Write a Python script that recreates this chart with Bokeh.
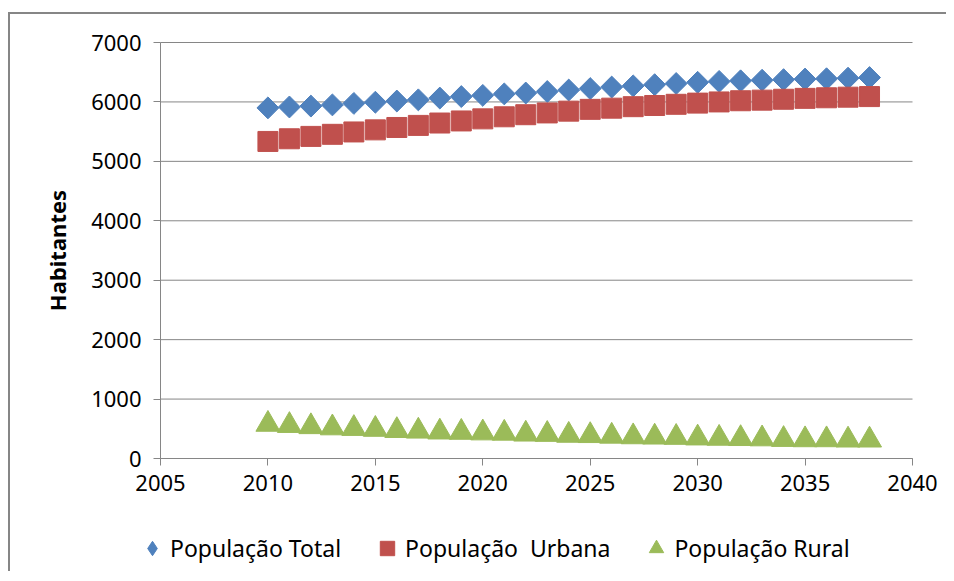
import math
from bokeh.plotting import figure
from bokeh.models import Range1d, FixedTicker, Legend, LegendItem, ColumnDataSource
from bokeh.embed import file_html
from bokeh.resources import INLINE

years = list(range(2010, 2039))
pop_total = [5900, 5915, 5930, 5950, 5975, 5995, 6015, 6035, 6065, 6090,
             6110, 6135, 6150, 6175, 6200, 6225, 6250, 6270, 6290, 6310,
             6330, 6345, 6355, 6365, 6375, 6385, 6390, 6400, 6410]
pop_urbana = [5335, 5380, 5420, 5455, 5495, 5530, 5570, 5605, 5645, 5680,
              5715, 5750, 5785, 5815, 5845, 5875, 5895, 5920, 5940, 5960,
              5980, 6000, 6020, 6030, 6045, 6060, 6070, 6080, 6090]
pop_rural = [575, 555, 535, 515, 505, 490, 470, 460, 445, 440,
             430, 425, 410, 405, 390, 385, 375, 365, 360, 355,
             345, 340, 335, 330, 320, 315, 315, 310, 310]
x_ticks = [2005, 2010, 2015, 2020, 2025, 2030, 2035, 2040]
y_ticks = [0, 1000, 2000, 3000, 4000, 5000, 6000, 7000]
series_names = ["População Total", "População  Urbana", "População Rural"]
y_label = "Habitantes"

BLUE = "#4F81BD"
RED = "#C0504D"
GREEN = "#9BBB59"
GRAY = "#868686"
FONT = "Noto Sans"

X_MIN, X_MAX = x_ticks[0], x_ticks[-1]
Y_MIN, Y_MAX = y_ticks[0], y_ticks[-1]

# The frame covers the whole canvas so that the legend (drawn in the frame)
# can sit below the x axis; the axes are pinned at x=2005 / y=0 and bounded.
W, H = 938, 559
LEFT_PAD, RIGHT_PAD = 150, 36   # px from canvas edge to axis ends
TOP_PAD, BOTTOM_PAD = 28, 115
px_per_x = (W - LEFT_PAD - RIGHT_PAD) / (X_MAX - X_MIN)
px_per_y = (H - TOP_PAD - BOTTOM_PAD) / (Y_MAX - Y_MIN)
x_range = Range1d(X_MIN - LEFT_PAD / px_per_x, X_MAX + RIGHT_PAD / px_per_x)
y_range = Range1d(Y_MIN - BOTTOM_PAD / px_per_y, Y_MAX + TOP_PAD / px_per_y)

p = figure(width=W, height=H, x_range=x_range, y_range=y_range,
           output_backend="svg", toolbar_location=None, min_border=0)
p.outline_line_color = None
p.background_fill_color = "white"
p.border_fill_color = "white"
p.styles = {"border-top": "2px solid #868686", "border-left": "2px solid #868686"}
p.margin = (12, 0, 0, 8)

# horizontal gridlines, from the y tick values, spanning the x-axis extent
n = len(y_ticks)
p.segment(x0=[X_MIN] * n, y0=y_ticks, x1=[X_MAX] * n, y1=y_ticks,
          line_color=GRAY, line_width=1)

src = ColumnDataSource(dict(year=years, total=pop_total, urbana=pop_urbana, rural=pop_rural))

p.scatter("year", "total", source=src, marker="square", size=15.5, angle=math.pi / 4,
          fill_color=BLUE, line_color=BLUE)
p.scatter("year", "urbana", source=src, marker="square", size=20,
          fill_color=RED, line_color=RED)
p.scatter("year", "rural", source=src, marker="triangle", size=24,
          fill_color=GREEN, line_color=GREEN)

# legend proxies (one NaN point each: nothing drawn in the plot)
nan_src = ColumnDataSource(dict(x=[float("nan")], y=[float("nan")]))
l1 = p.scatter("x", "y", source=nan_src, marker="diamond", fill_color=BLUE, line_color=BLUE)
l2 = p.scatter("x", "y", source=nan_src, marker="square", fill_color=RED, line_color=RED)
l3 = p.scatter("x", "y", source=nan_src, marker="triangle", fill_color=GREEN, line_color=GREEN)

legend = Legend(items=[LegendItem(label=series_names[0], renderers=[l1]),
                       LegendItem(label=series_names[1], renderers=[l2]),
                       LegendItem(label=series_names[2], renderers=[l3])],
                orientation="horizontal", location=(124, 4),
                glyph_width=36, glyph_height=42, label_standoff=0, spacing=28,
                padding=0, margin=0, border_line_color=None,
                background_fill_alpha=0,
                label_text_font=FONT, label_text_font_size="23px",
                label_text_color="#000000")
p.add_layout(legend, "center")

p.xaxis.ticker = FixedTicker(ticks=x_ticks)
p.yaxis.ticker = FixedTicker(ticks=y_ticks)
p.xaxis.fixed_location = Y_MIN
p.yaxis.fixed_location = X_MIN
p.xaxis.bounds = (X_MIN, X_MAX)
p.yaxis.bounds = (Y_MIN, Y_MAX)
p.xgrid.visible = False
p.ygrid.visible = False
for ax in (p.xaxis, p.yaxis):
    ax.axis_line_color = GRAY
    ax.major_tick_line_color = GRAY
    ax.minor_tick_line_color = None
    ax.major_tick_out = 7
    ax.major_tick_in = 0
    ax.major_label_text_font = FONT
    ax.major_label_text_font_size = "22px"
    ax.major_label_text_color = "#000000"
p.xaxis.major_label_standoff = 9
p.yaxis.major_label_standoff = 12
p.yaxis.axis_label = y_label
p.yaxis.axis_label_text_font = FONT
p.yaxis.axis_label_text_font_size = "22px"
p.yaxis.axis_label_text_font_style = "bold"
p.yaxis.axis_label_text_color = "#000000"
p.yaxis.axis_label_standoff = 16

open("out.html", "w").write(file_html(p, INLINE))
